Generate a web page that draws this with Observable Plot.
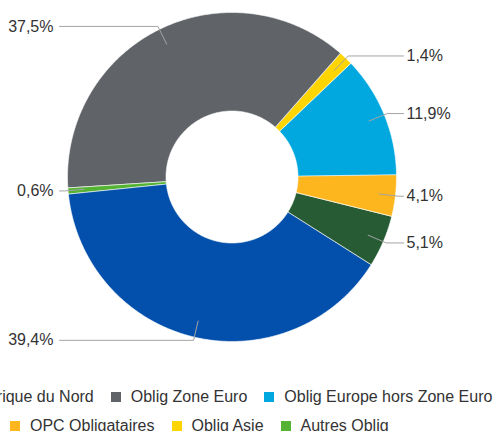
<!DOCTYPE html>
<html>
<head>
<meta charset="utf-8">
<script src="https://cdn.jsdelivr.net/npm/d3@7"></script>
<script src="https://cdn.jsdelivr.net/npm/@observablehq/plot@0.6"></script>
<style>
  html, body { margin: 0; padding: 0; background: #fff; }
  #wrap { position: relative; width: 496px; height: 431px; overflow: hidden; font-family: Arial, "Liberation Sans", sans-serif; }
  #legend { position: relative; width: 496px; height: 51px; }
  .row { position: absolute; display: flex; align-items: center; white-space: nowrap; gap: 17px; font-size: 16px; color: #333; }
  .item { display: flex; align-items: center; gap: 10px; }
  .sw { width: 10px; height: 10px; display: inline-block; }
</style>
</head>
<body>
<div id="wrap"><div id="chart"></div><div id="legend"></div></div>
<script>
// Slices in clockwise order, starting near 3 o'clock
const categories = ["OPC Obligataires", "Oblig Emergentes", "Oblig Amérique du Nord", "Autres Oblig", "Oblig Zone Euro", "Oblig Asie", "Oblig Europe hors Zone Euro"];
const values = [4.1, 5.1, 39.4, 0.6, 37.5, 1.4, 11.9];
const colors = ["#FDB61E", "#265B34", "#0350AC", "#55B333", "#606368", "#FFD500", "#00A8DF"];
const labels = ["4,1%", "5,1%", "39,4%", "0,6%", "37,5%", "1,4%", "11,9%"];
// Legend rows (third row falls outside the picture)
const legendRows = [
  ["Oblig Amérique du Nord", "Oblig Zone Euro", "Oblig Europe hors Zone Euro"],
  ["OPC Obligataires", "Oblig Asie", "Autres Oblig"],
  ["Oblig Emergentes"]
];
const legendLeft = [-97, 10, 150];

const W = 496, H = 380;
const cx = 231.5, cy = 176.5, R = 164.5;
const innerRatio = 66 / 164.5;
const startDeg = 89.2;

const pie = d3.pie().sort(null)
  .startAngle(startDeg * Math.PI / 180)
  .endAngle(startDeg * Math.PI / 180 + 2 * Math.PI)(values);

const poly = [];
pie.forEach((a, i) => {
  const n = Math.max(2, Math.ceil((a.endAngle - a.startAngle) / (0.5 * Math.PI / 180)));
  for (let k = 0; k <= n; k++) {
    const t = a.startAngle + (a.endAngle - a.startAngle) * k / n;
    poly.push({cat: categories[i], x: Math.sin(t), y: Math.cos(t)});
  }
  for (let k = n; k >= 0; k--) {
    const t = a.startAngle + (a.endAngle - a.startAngle) * k / n;
    poly.push({cat: categories[i], x: innerRatio * Math.sin(t), y: innerRatio * Math.cos(t)});
  }
});

const xRight = (403 - cx) / R, xLeft = (59 - cx) / R;
const leaders = [], texts = [];
pie.forEach((a, i) => {
  const m = (a.startAngle + a.endAngle) / 2;
  const right = Math.sin(m) >= 0;
  const ey = 1.02 * Math.cos(m);
  leaders.push({cat: categories[i], x: 0.9 * Math.sin(m), y: 0.9 * Math.cos(m)});
  leaders.push({cat: categories[i], x: 1.02 * Math.sin(m), y: ey});
  leaders.push({cat: categories[i], x: right ? xRight : xLeft, y: ey});
  texts.push({label: labels[i], x: right ? xRight : xLeft, y: ey, right});
});

const chart = Plot.plot({
  width: W, height: H,
  margin: 0,
  style: {fontFamily: "Arial, 'Liberation Sans', sans-serif", background: "white", overflow: "visible"},
  x: {domain: [-cx / R, (W - cx) / R], range: [0, W], axis: null},
  y: {domain: [-(H - cy) / R, cy / R], range: [H, 0], axis: null},
  color: {domain: categories, range: colors},
  marks: [
    Plot.line(poly, {x: "x", y: "y", z: "cat", fill: "cat", stroke: "white", strokeWidth: 0.6, curve: "linear-closed"}),
    Plot.line(leaders, {x: "x", y: "y", z: "cat", stroke: "#a3a3a3", strokeWidth: 1}),
    Plot.text(texts.filter(d => d.right), {x: "x", y: "y", text: "label", textAnchor: "start", dx: 3, fontSize: 16, fill: "#333"}),
    Plot.text(texts.filter(d => !d.right), {x: "x", y: "y", text: "label", textAnchor: "end", dx: -6, fontSize: 16, fill: "#333"})
  ]
});
document.getElementById("chart").appendChild(chart);

const colorOf = Object.fromEntries(categories.map((c, i) => [c, colors[i]]));
const legend = document.getElementById("legend");
legendRows.forEach((row, r) => {
  const div = document.createElement("div");
  div.className = "row";
  div.style.left = legendLeft[r] + "px";
  div.style.top = (17 + r * 29 - 9) + "px";
  row.forEach(name => {
    const it = document.createElement("span");
    it.className = "item";
    const sw = document.createElement("span");
    sw.className = "sw";
    sw.style.background = colorOf[name];
    const tx = document.createElement("span");
    tx.textContent = name;
    it.appendChild(sw); it.appendChild(tx);
    div.appendChild(it);
  });
  legend.appendChild(div);
});
</script>
</body>
</html>
